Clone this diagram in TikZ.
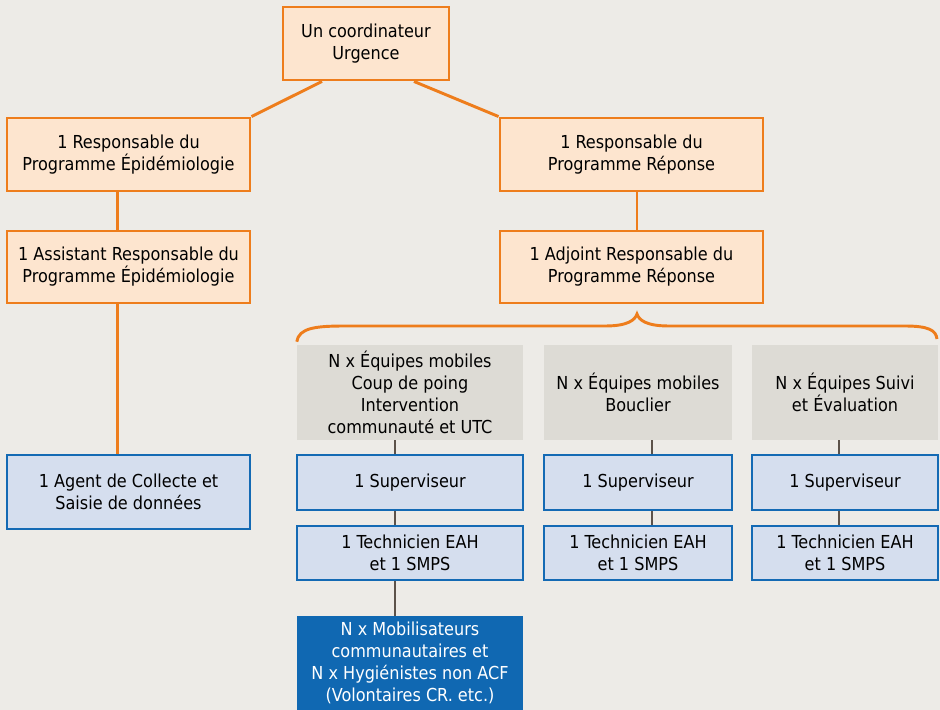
\documentclass[tikz,border=0pt]{standalone}
\usepackage{fontspec}
\setmainfont{DejaVu Sans Condensed}

\definecolor{fondgris}{RGB}{237,235,231}
\definecolor{orangetrait}{RGB}{238,125,28}
\definecolor{orangefond}{RGB}{253,229,207}
\definecolor{grisequipe}{RGB}{221,219,213}
\definecolor{bleufond}{RGB}{213,222,238}
\definecolor{bleutrait}{RGB}{20,106,180}
\definecolor{bleufonce}{RGB}{16,104,178}
\definecolor{traitbrun}{RGB}{92,82,74}

\tikzset{
	orgbox/.style={draw=orangetrait, line width=2.2pt, fill=orangefond, align=center, inner sep=0pt},
	grpbox/.style={fill=grisequipe, align=center, inner sep=0pt},
	postbox/.style={draw=bleutrait, line width=1.8pt, fill=bleufond, align=center, inner sep=0pt},
	volbox/.style={fill=bleufonce, text=white, align=center, inner sep=0pt},
	orgline/.style={draw=orangetrait, line width=2.2pt},
	teamline/.style={draw=traitbrun, line width=1.6pt}
}
\tikzset{every node/.style={font=\fontsize{13.4}{16.5}\selectfont}}

\begin{document}
\begin{tikzpicture}[x=0.75pt,y=0.75pt,yscale=-1,xscale=1]
	%Background
	\fill [fondgris] (0,0) rectangle (940,710);
	\useasboundingbox (0,0) rectangle (940,710);

	%Shape: Rectangle [coordinateur]
	\node [orgbox, minimum width=124.5pt, minimum height=54.75pt] (coord) at (366,43.5) {Un coordinateur\\Urgence};
	%Shape: Rectangle [responsables]
	\node [orgbox, minimum width=182.25pt, minimum height=54.75pt] (respEpi) at (128.5,154.5) {1 Responsable du\\Programme Épidémiologie};
	\node [orgbox, minimum width=197.25pt, minimum height=54.75pt] (respRep) at (631.5,154.5) {1 Responsable du\\Programme Réponse};
	\node [orgbox, minimum width=182.25pt, minimum height=54pt] (asstEpi) at (128.5,267) {1 Assistant Responsable du\\Programme Épidémiologie};
	\node [orgbox, minimum width=197.25pt, minimum height=54pt] (adjRep) at (631.5,267) {1 Adjoint Responsable du\\Programme Réponse};

	%Shape: Rectangle [agent]
	\node [postbox, minimum width=182.25pt, minimum height=55.5pt] (agent) at (128.5,492) {1 Agent de Collecte et\\Saisie de données};

	%Shape: Rectangle [equipes]
	\node [grpbox, minimum width=169.5pt, minimum height=71.25pt] (eqPoing) at (410,392.5) {N x Équipes mobiles\\Coup de poing\\Intervention\\communauté et UTC};
	\node [grpbox, minimum width=141pt, minimum height=71.25pt] (eqBouclier) at (638,392.5) {N x Équipes mobiles\\Bouclier};
	\node [grpbox, minimum width=139.5pt, minimum height=71.25pt] (eqSuivi) at (845,392.5) {N x Équipes Suivi\\et Évaluation};

	%Shape: Rectangle [superviseurs]
	\node [postbox, minimum width=169.5pt, minimum height=41.25pt] (supPoing) at (410,482.5) {1 Superviseur};
	\node [postbox, minimum width=141pt, minimum height=41.25pt] (supBouclier) at (638,482.5) {1 Superviseur};
	\node [postbox, minimum width=139.5pt, minimum height=41.25pt] (supSuivi) at (845,482.5) {1 Superviseur};

	%Shape: Rectangle [techniciens]
	\node [postbox, minimum width=169.5pt, minimum height=40.5pt] (techPoing) at (410,553) {1 Technicien EAH\\et 1 SMPS};
	\node [postbox, minimum width=141pt, minimum height=40.5pt] (techBouclier) at (638,553) {1 Technicien EAH\\et 1 SMPS};
	\node [postbox, minimum width=139.5pt, minimum height=40.5pt] (techSuivi) at (845,553) {1 Technicien EAH\\et 1 SMPS};

	%Shape: Rectangle [volontaires]
	\node [volbox, minimum width=169.5pt, minimum height=70.5pt] (mobil) at (410,663) {N x Mobilisateurs\\communautaires et\\N x Hygiénistes non ACF\\(Volontaires CR. etc.)};

	%Straight Lines [coordinateur]
	\draw [orgline] ([xshift=-33pt]coord.south) -- (respEpi.north east);
	\draw [orgline] ([xshift=36pt]coord.south) -- (respRep.north west);
	%Straight Lines [epidemiologie]
	\draw [orgline] ([xshift=-8.6pt]respEpi.south) -- ([xshift=-8.6pt]asstEpi.north);
	\draw [orgline] ([xshift=-8.6pt]asstEpi.south) -- ([xshift=-8.6pt]agent.north);
	%Straight Lines [reponse]
	\draw [orgline] ([xshift=4.1pt]respRep.south) -- ([xshift=4.1pt]adjRep.north);

	%Curve Lines [accolade]
	\draw [orgline] (eqPoing.north west) ++(0,-3) .. controls (299,328) and (315,326) .. (345,326)
		-- (605,326) .. controls (628,326) and (635,320) .. (637,314)
		.. controls (639,320) and (646,326) .. (669,326)
		-- (905,326) .. controls (928,326) and (936,330) .. (937,339);

	%Straight Lines [equipes]
	\draw [teamline] ([xshift=-11.25pt]eqPoing.south) -- ([xshift=-11.25pt]supPoing.north);
	\draw [teamline] ([xshift=-11.25pt]supPoing.south) -- ([xshift=-11.25pt]techPoing.north);
	\draw [teamline] ([xshift=-11.25pt]techPoing.south) -- ([xshift=-11.25pt]mobil.north);
	\draw [teamline] ([xshift=10.5pt]eqBouclier.south) -- ([xshift=10.5pt]supBouclier.north);
	\draw [teamline] ([xshift=10.5pt]supBouclier.south) -- ([xshift=10.5pt]techBouclier.north);
	\draw [teamline] ([xshift=-4.5pt]eqSuivi.south) -- ([xshift=-4.5pt]supSuivi.north);
	\draw [teamline] ([xshift=-4.5pt]supSuivi.south) -- ([xshift=-4.5pt]techSuivi.north);

\end{tikzpicture}
\end{document}
